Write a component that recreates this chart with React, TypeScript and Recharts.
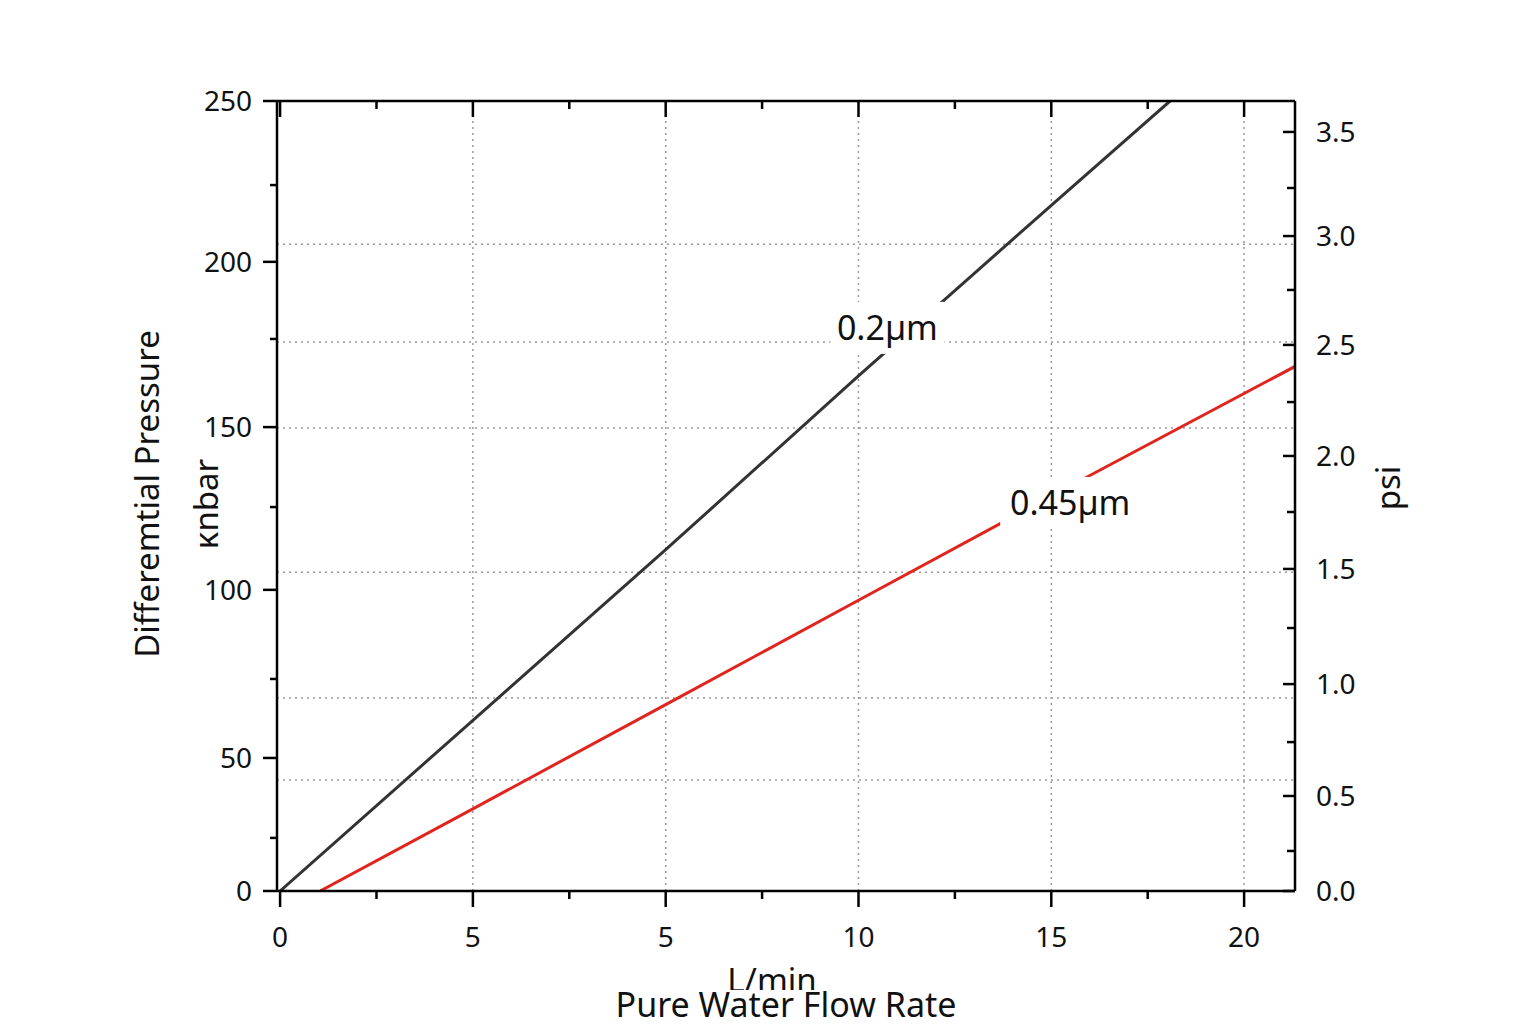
import { Line, LineChart, ReferenceDot, ReferenceLine, XAxis, YAxis } from "recharts";

// flow-rate axis: tick positions and the (odd) printed labels
const FLOW_TICKS = [0, 5, 10, 15, 20, 25];
const FLOW_TICK_LABELS = ["0", "5", "5", "10", "15", "20"];
const FLOW_MINOR = [2.5, 7.5, 12.5, 17.5, 22.5];

// left axis (kпbar): where each printed label sits on the 0–250 scale
const KNBAR_TICKS = [0, 42.1, 95.3, 146.8, 199.1, 250];
const KNBAR_TICK_LABELS = ["0", "50", "100", "150", "200", "250"];
const KNBAR_MINOR = [16.8, 67.1, 121.5, 174.7, 223.4];

// right axis (psi)
const PSI_TICKS = [0, 0.439, 0.956, 1.488, 2.01, 2.523, 3.026, 3.507];
const PSI_TICK_LABELS = ["0.0", "0.5", "1.0", "1.5", "2.0", "2.5", "3.0", "3.5"];
const PSI_MINOR = [0.185, 0.688, 1.215, 1.751, 2.259, 2.777, 3.248];

// dotted horizontal grid lines (on the kbar scale)
const GRID_KNBAR = [35.1, 61.1, 100.9, 146.5, 173.7, 204.7];

// 0.2µm filter
const FLOW_02 = [0, 5, 10, 15, 20, 23.08];
const DP_02 = [0, 54, 108, 163, 217, 250];
// 0.45µm filter
const FLOW_045 = [1.04, 5, 10, 15, 20, 26.32];
const DP_045 = [0, 26, 59, 92, 125, 166];

const SERIES_NAMES = ["0.2µm", "0.45µm"];
const SERIES_COLORS = ["#333333", "#e0251e"];
const NAME_FLOW = [15.75, 20.49];
const NAME_DP = [178.2, 122.8];

const FONT = "'Noto Sans', 'Open Sans', sans-serif";
const AXIS = { stroke: "#000", strokeWidth: 2.5 };
const GRID = { stroke: "#9a9a9a", strokeWidth: 1.5, strokeDasharray: "2 4" };

const toRows = (xs: number[], ys: number[]) => xs.map((x, i) => ({ flow: x, dp: ys[i] }));

function BottomTick({ x, y, payload }: any) {
  const i = FLOW_TICKS.indexOf(payload.value);
  const major = i >= 0;
  return (
    <g>
      <line x1={x} x2={x} y1={y} y2={y + (major ? 16 : 8)} stroke="#000" strokeWidth={2.5} />
      {major && (
        <text x={x} y={y + 46} dy="0.35em" textAnchor="middle" fontSize={28} fontFamily={FONT} fill="#111">
          {FLOW_TICK_LABELS[i]}
        </text>
      )}
    </g>
  );
}

function TopTick({ x, y, payload }: any) {
  const major = FLOW_TICKS.includes(payload.value);
  return <line x1={x} x2={x} y1={y} y2={y + (major ? 16 : 8)} stroke="#000" strokeWidth={2.5} />;
}

function LeftTick({ x, y, payload }: any) {
  const i = KNBAR_TICKS.indexOf(payload.value);
  const major = i >= 0;
  return (
    <g>
      <line x1={x} x2={x - (major ? 14 : 7)} y1={y} y2={y} stroke="#000" strokeWidth={2.5} />
      {major && (
        <text x={x - 25} y={y} dy="0.35em" textAnchor="end" fontSize={28} fontFamily={FONT} fill="#111">
          {KNBAR_TICK_LABELS[i]}
        </text>
      )}
    </g>
  );
}

function RightTick({ x, y, payload }: any) {
  const i = PSI_TICKS.indexOf(payload.value);
  const major = i >= 0;
  return (
    <g>
      <line x1={x} x2={x - (major ? 12 : 8)} y1={y} y2={y} stroke="#000" strokeWidth={2.5} />
      {major && (
        <text x={x + 21} y={y} dy="0.35em" textAnchor="start" fontSize={28} fontFamily={FONT} fill="#111">
          {PSI_TICK_LABELS[i]}
        </text>
      )}
    </g>
  );
}

function SeriesName({ cx, cy, name, boxWidth }: any) {
  return (
    <g>
      <rect x={cx - boxWidth / 2} y={cy - 26} width={boxWidth} height={52} fill="#fff" />
      <text x={cx} y={cy} dy="0.35em" textAnchor="middle" fontSize={34} fontFamily={FONT} fill="#111">
        {name}
      </text>
    </g>
  );
}

export default function App() {
  const xDomain: [number, number] = [-0.08, 26.32];
  return (
    <div style={{ position: "absolute", left: 0, top: 0, width: 1536, height: 1024, background: "#fff" }}>
      <LineChart width={1536} height={1024} margin={{ top: 100, right: 141, bottom: 73, left: 187 }}>
        <XAxis
          xAxisId="bottom"
          type="number"
          dataKey="flow"
          domain={xDomain}
          allowDataOverflow
          ticks={[...FLOW_TICKS, ...FLOW_MINOR]}
          interval={0}
          tickSize={0}
          tickMargin={0}
          tickLine={false}
          tick={BottomTick}
          axisLine={AXIS}
          height={60}
        />
        <XAxis
          xAxisId="top"
          orientation="top"
          type="number"
          dataKey="flow"
          domain={xDomain}
          allowDataOverflow
          ticks={[...FLOW_TICKS, ...FLOW_MINOR]}
          interval={0}
          tickSize={0}
          tickMargin={0}
          tickLine={false}
          tick={TopTick}
          axisLine={AXIS}
          height={1}
        />
        <YAxis
          yAxisId="kbar"
          type="number"
          domain={[0, 250]}
          allowDataOverflow
          ticks={[...KNBAR_TICKS, ...KNBAR_MINOR]}
          interval={0}
          tickSize={0}
          tickMargin={0}
          tickLine={false}
          tick={LeftTick}
          axisLine={AXIS}
          width={90}
        />
        <YAxis
          yAxisId="psi"
          orientation="right"
          type="number"
          domain={[0, 3.65]}
          allowDataOverflow
          ticks={[...PSI_TICKS, ...PSI_MINOR]}
          interval={0}
          tickSize={0}
          tickMargin={0}
          tickLine={false}
          tick={RightTick}
          axisLine={AXIS}
          width={100}
        />
        {FLOW_TICKS.slice(1).map((v) => (
          <ReferenceLine key={`vx${v}`} x={v} xAxisId="bottom" yAxisId="kbar" {...GRID} />
        ))}
        {GRID_KNBAR.map((v) => (
          <ReferenceLine key={`hy${v}`} y={v} xAxisId="bottom" yAxisId="kbar" {...GRID} />
        ))}
        <Line
          data={toRows(FLOW_02, DP_02)}
          xAxisId="bottom"
          yAxisId="kbar"
          dataKey="dp"
          stroke={SERIES_COLORS[0]}
          strokeWidth={3}
          dot={false}
          isAnimationActive={false}
        />
        <Line
          data={toRows(FLOW_045, DP_045)}
          xAxisId="bottom"
          yAxisId="kbar"
          dataKey="dp"
          stroke={SERIES_COLORS[1]}
          strokeWidth={3}
          dot={false}
          isAnimationActive={false}
        />
        {SERIES_NAMES.map((name, i) => (
          <ReferenceDot
            key={name}
            x={NAME_FLOW[i]}
            y={NAME_DP[i]}
            xAxisId="bottom"
            yAxisId="kbar"
            r={0}
            shape={(p: any) => <SeriesName cx={p.cx} cy={p.cy} name={name} boxWidth={i === 0 ? 114 : 140} />}
          />
        ))}
      </LineChart>
      <svg
        width={1536}
        height={1024}
        style={{ position: "absolute", left: 0, top: 0, pointerEvents: "none" }}
        fontFamily={FONT}
        fill="#111"
      >
        <text x={159} y={494} fontSize={33} textAnchor="middle" transform="rotate(-90 159 494)">
          Differemtial Pressure
        </text>
        <text x={218} y={504} fontSize={33} textAnchor="middle" transform="rotate(-90 218 504)">
          κnbar
        </text>
        <text x={1400} y={488} fontSize={33} textAnchor="middle" transform="rotate(-90 1400 488)">
          psi
        </text>
        <text x={772} y={992} fontSize={33} textAnchor="middle">
          L/min
        </text>
        <rect x={600} y={990} width={375} height={34} fill="#fff" />
        <text x={786} y={1017} fontSize={34} textAnchor="middle">
          Pure Water Flow Rate
        </text>
      </svg>
    </div>
  );
}
